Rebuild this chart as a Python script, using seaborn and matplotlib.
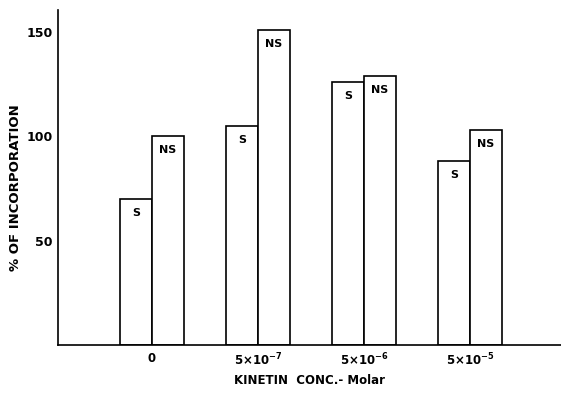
import pandas as pd
import seaborn as sns
import matplotlib.pyplot as plt

# values
concs = ["0", "5×10$^{-7}$", "5×10$^{-6}$", "5×10$^{-5}$"]
s_vals = [70, 105, 126, 88]
ns_vals = [100, 151, 129, 103]

df = pd.DataFrame({
    "conc": concs * 2,
    "incorp": s_vals + ns_vals,
    "kind": ["S"] * len(concs) + ["NS"] * len(concs),
})

sns.set_theme(style="white")
plt.rcParams["font.family"] = ["DejaVu Sans"]
plt.rcParams["mathtext.default"] = "regular"
plt.rcParams["text.color"] = "black"
plt.rcParams["axes.labelcolor"] = "black"
plt.rcParams["xtick.color"] = "black"
plt.rcParams["ytick.color"] = "black"

fig = plt.figure(figsize=(5.61, 3.94), dpi=100)
ax = fig.add_axes([0.1034, 0.1244, 0.8966, 0.8502])

sns.barplot(data=df, x="conc", y="incorp", hue="kind", hue_order=["S", "NS"],
            palette=["white", "white"], edgecolor="black", linewidth=1.2,
            width=0.6, legend=False, ax=ax)

# S / NS labels inside bar tops
for cont, lab in zip(ax.containers, ["S", "NS"]):
    for p in cont.patches:
        ax.annotate(lab, (p.get_x() + p.get_width() / 2, p.get_height()),
                    xytext=(0, -10), textcoords="offset points",
                    ha="center", va="center", fontsize=8, fontweight="bold")

ax.set_xlim(-0.887, 3.858)
ax.set_ylim(0, 160.5)
ax.set_yticks([50, 100, 150])
ax.tick_params(axis="y", direction="in", length=5, width=1.2, pad=4,
               labelsize=9)
ax.tick_params(axis="x", length=0, pad=5, labelsize=8.5)
for t in ax.get_xticklabels() + ax.get_yticklabels():
    t.set_fontweight("bold")

ax.set_xlabel("KINETIN  CONC.- Molar", fontsize=8.5, fontweight="bold", labelpad=4)
ax.set_ylabel("% OF INCORPORATION", fontsize=9.5, fontweight="bold")
ax.yaxis.set_label_coords(-0.072, 0.47)

sns.despine(ax=ax)
for sp in ["left", "bottom"]:
    ax.spines[sp].set_linewidth(1.2)
    ax.spines[sp].set_color("black")

fig.savefig("out.png", dpi=100)
